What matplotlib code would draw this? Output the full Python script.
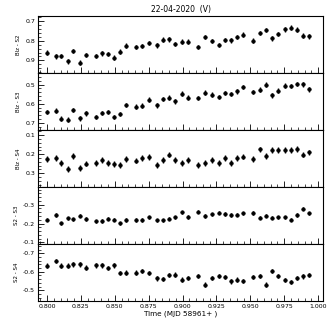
import matplotlib
matplotlib.use("Agg")
import matplotlib.pyplot as plt
from matplotlib.ticker import MultipleLocator, FormatStrFormatter

plt.rcParams['font.family'] = ['DejaVu Sans']

time = [0.8002, 0.8064, 0.8106, 0.8152, 0.8194, 0.8241, 0.8287, 0.8359, 0.8403, 0.8447,
        0.8494, 0.8538, 0.8582, 0.8656, 0.8703, 0.8754, 0.8813, 0.8857, 0.8902, 0.8948,
        0.8993, 0.9039, 0.9111, 0.9165, 0.9221, 0.9270, 0.9312, 0.9356, 0.9403, 0.9447,
        0.9521, 0.9575, 0.9619, 0.9663, 0.9708, 0.9754, 0.9799, 0.9845, 0.9889, 0.9934]

blz_s2 = [0.861, 0.879, 0.878, 0.905, 0.852, 0.912, 0.873, 0.878, 0.864, 0.868,
          0.886, 0.856, 0.825, 0.832, 0.826, 0.811, 0.823, 0.794, 0.792, 0.816,
          0.804, 0.804, 0.832, 0.780, 0.801, 0.821, 0.796, 0.797, 0.780, 0.768,
          0.799, 0.760, 0.744, 0.787, 0.765, 0.741, 0.732, 0.743, 0.773, 0.777]

blz_s3 = [0.643, 0.637, 0.679, 0.683, 0.632, 0.677, 0.650, 0.669, 0.648, 0.644,
          0.669, 0.655, 0.606, 0.615, 0.610, 0.578, 0.608, 0.575, 0.568, 0.587,
          0.547, 0.568, 0.570, 0.542, 0.552, 0.564, 0.543, 0.550, 0.535, 0.512,
          0.538, 0.526, 0.500, 0.556, 0.531, 0.505, 0.507, 0.497, 0.498, 0.524]

blz_s4 = [0.227, 0.220, 0.246, 0.280, 0.211, 0.273, 0.250, 0.246, 0.229, 0.248,
          0.252, 0.257, 0.225, 0.234, 0.220, 0.214, 0.257, 0.230, 0.202, 0.232,
          0.246, 0.232, 0.257, 0.246, 0.232, 0.246, 0.220, 0.248, 0.220, 0.213,
          0.225, 0.175, 0.211, 0.179, 0.179, 0.179, 0.179, 0.173, 0.202, 0.191]

s2_s3 = [-0.220, -0.245, -0.201, -0.227, -0.222, -0.242, -0.224, -0.212, -0.213, -0.226,
         -0.220, -0.201, -0.219, -0.219, -0.219, -0.233, -0.217, -0.217, -0.226, -0.233,
         -0.259, -0.235, -0.263, -0.240, -0.249, -0.258, -0.250, -0.245, -0.247, -0.254,
         -0.256, -0.231, -0.242, -0.231, -0.233, -0.233, -0.220, -0.245, -0.279, -0.254]

s2_s4 = [-0.633, -0.658, -0.633, -0.633, -0.640, -0.640, -0.622, -0.635, -0.635, -0.620,
         -0.635, -0.594, -0.596, -0.596, -0.604, -0.594, -0.564, -0.560, -0.583, -0.585,
         -0.558, -0.567, -0.576, -0.530, -0.565, -0.578, -0.573, -0.548, -0.558, -0.550,
         -0.573, -0.576, -0.530, -0.603, -0.578, -0.557, -0.546, -0.567, -0.575, -0.583]

errors = [0.012, 0.012, 0.015, 0.009, 0.012]
labels = ["Blz - S2", "Blz - S3", "Blz - S4", "S2 - S3", "S2 - S4"]
series = [blz_s2, blz_s3, blz_s4, s2_s3, s2_s4]
ylims = [(0.965, 0.673), (0.738, 0.439), (0.373, 0.073), (-0.091, -0.394), (-0.442, -0.750)]

fig, axes = plt.subplots(5, 1, sharex=True, figsize=(3.27, 3.27), dpi=100)
fig.subplots_adjust(left=0.116, right=0.988, top=0.951, bottom=0.0795, hspace=0)

for ax, vals, lab, err, yl in zip(axes, series, labels, errors, ylims):
    ax.errorbar(time, vals, yerr=err, fmt='o', color='black', ms=2.6,
                elinewidth=1.0, capsize=0, markeredgewidth=0.4)
    ax.set_ylim(*yl)
    ax.set_ylabel(lab, fontsize=4.0, labelpad=3)
    ax.yaxis.set_major_locator(MultipleLocator(0.1))
    ax.yaxis.set_minor_locator(MultipleLocator(0.02))
    ax.yaxis.set_major_formatter(FormatStrFormatter('%.1f'))
    ax.xaxis.set_major_locator(MultipleLocator(0.025))
    ax.xaxis.set_minor_locator(MultipleLocator(0.005))
    ax.tick_params(axis='both', which='major', direction='in', length=4, width=0.6,
                   labelsize=4.5, pad=2)
    ax.tick_params(axis='both', which='minor', direction='in', length=2, width=0.5)
    ax.tick_params(top=False, right=False)
    for sp in ax.spines.values():
        sp.set_linewidth(0.8)

axes[-1].set_xlim(0.7933, 1.0037)
axes[-1].xaxis.set_major_formatter(FormatStrFormatter('%.3f'))
axes[-1].set_xlabel("Time (MJD 58961+ )", fontsize=5.2, labelpad=1)
axes[0].set_title("22-04-2020  (V)", fontsize=5.5, pad=3)

fig.savefig("out.png", dpi=100)
